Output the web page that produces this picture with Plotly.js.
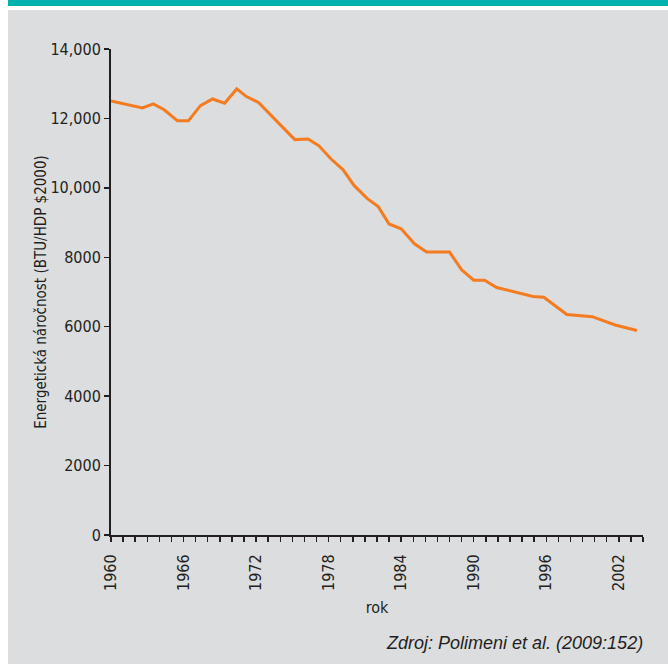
<!DOCTYPE html>
<html>
<head>
<meta charset="utf-8">
<script src="https://cdn.plot.ly/plotly-3.0.1.min.js"></script>
<style>
  html, body { margin: 0; padding: 0; background: #ffffff; width: 668px; height: 664px; overflow: hidden; }
  #bar { position: absolute; left: 8px; top: 0; width: 660px; height: 6px; background: #00B2AE; }
  #chart { position: absolute; left: 8px; top: 10px; width: 660px; height: 654px; }
</style>
</head>
<body>
<div id="bar"></div>
<div id="chart"></div>
<script>
// Data
const years = [1960, 1962.6, 1963.5, 1964.4, 1965.5, 1966.4, 1967.4, 1968.4, 1969.4, 1970.4, 1971.2, 1972.2,
               1975.2, 1976.3, 1977.2, 1978.2, 1979.2, 1980.1, 1981.2, 1982.1, 1983.0, 1984.0, 1985.1, 1986.1,
               1988.0, 1989.0, 1990.0, 1990.9, 1991.9, 1994.9, 1995.8, 1997.7, 1999.8, 2001.7, 2003.5];
const intensity = [12500, 12300, 12420, 12250, 11930, 11930, 12370, 12560, 12440, 12850, 12630, 12460,
                   11390, 11410, 11210, 10830, 10520, 10070, 9690, 9460, 8960, 8820, 8390, 8150,
                   8150, 7640, 7340, 7340, 7130, 6870, 6850, 6350, 6290, 6050, 5890];
const yTickVals = [0, 2000, 4000, 6000, 8000, 10000, 12000, 14000];
const yTickText = ['0', '2000', '4000', '6000', '8000', '10,000', '12,000', '14,000'];
const xTickVals = [1960, 1966, 1972, 1978, 1984, 1990, 1996, 2002];
const xTickText = ['1960', '1966', '1972', '1978', '1984', '1990', '1996', '2002'];
const yTitle = 'Energetická náročnost (BTU/HDP $2000)';
const xTitle = 'rok';
const source = 'Zdroj: Polimeni et al. (2009:152)';

const narrow = '"Liberation Sans Narrow", "DejaVu Sans Condensed", "Roboto Condensed", sans-serif';
const ink = '#231F20';
const bg = '#DCDDDF';

const trace = {
  x: years, y: intensity, type: 'scatter', mode: 'lines',
  line: { color: '#F47B20', width: 3 },
  hoverinfo: 'x+y'
};

const layout = {
  width: 660, height: 654,
  margin: { l: 103, r: 25, t: 39, b: 129, pad: 0 },
  paper_bgcolor: bg, plot_bgcolor: bg,
  showlegend: false,
  font: { family: narrow, size: 16, color: ink },
  xaxis: {
    range: [1960, 2004], showgrid: false, zeroline: false,
    showline: true, linecolor: ink, linewidth: 2,
    tickmode: 'array', tickvals: xTickVals, ticktext: xTickText,
    ticks: 'outside', ticklen: 5, tickwidth: 1.5, tickcolor: ink,
    tickangle: -90, ticklabelstandoff: 6, tickfont: { family: narrow, size: 16, color: ink },
    minor: { dtick: 1, tick0: 1960, ticks: 'outside', ticklen: 5, tickwidth: 1.5, tickcolor: ink, showgrid: false },
    title: { text: xTitle, font: { family: narrow, size: 16, color: ink }, standoff: 12 }
  },
  yaxis: {
    range: [0, 14000], showgrid: false, zeroline: false,
    showline: true, linecolor: ink, linewidth: 2,
    tickmode: 'array', tickvals: yTickVals, ticktext: yTickText,
    ticks: 'outside', ticklen: 5, tickwidth: 1.5, tickcolor: ink,
    tickfont: { family: narrow, size: 16, color: ink },
    title: { text: yTitle, font: { family: narrow, size: 15, color: ink }, standoff: 0 }
  },
  annotations: [{
    xref: 'paper', yref: 'paper', x: 1.003, y: -0.222, xanchor: 'right', yanchor: 'middle',
    text: source, showarrow: false,
    font: { family: '"Liberation Sans", Arial, sans-serif', size: 18, color: ink, style: 'italic' }
  }]
};

Plotly.newPlot('chart', [trace], layout, { displayModeBar: false, staticPlot: true });
</script>
</body>
</html>
